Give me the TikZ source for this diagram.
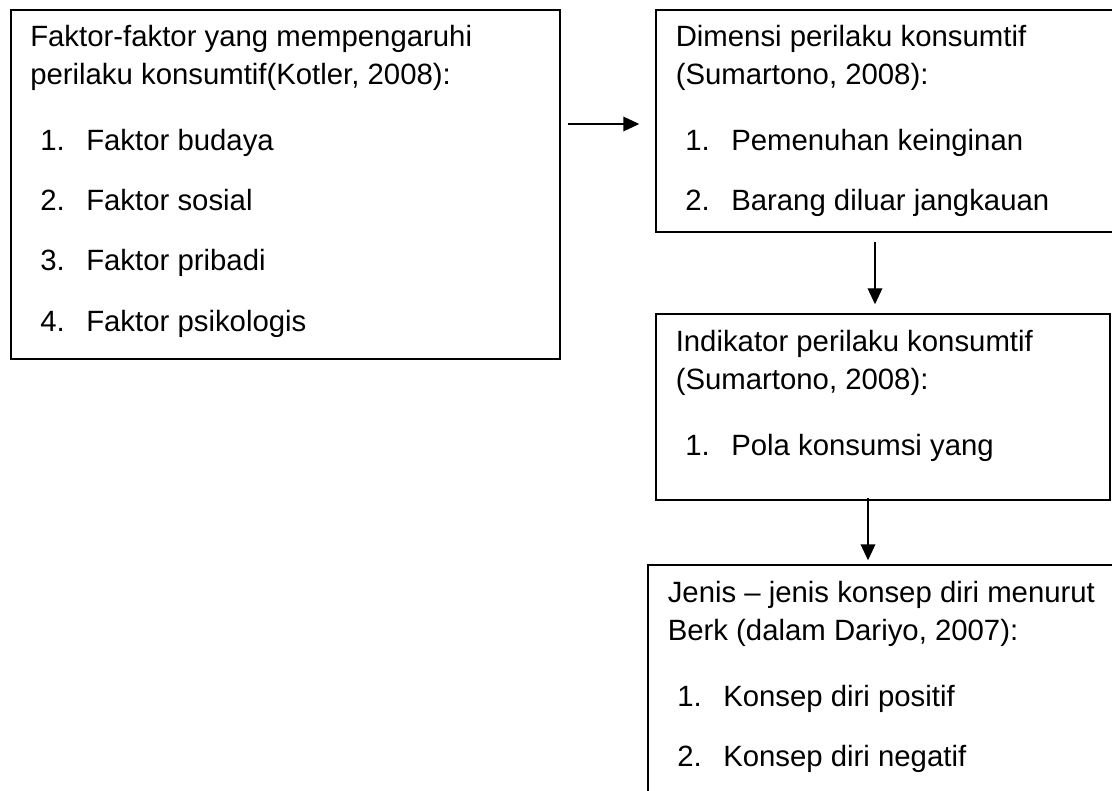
\documentclass[tikz,border=0pt]{standalone}
\usepackage{fontspec}
\setmainfont{Liberation Sans}
\usepackage{tikz}
\usetikzlibrary{arrows.meta, positioning, fit}

\newcommand{\butir}[2]{\makebox[34.5pt][l]{#1}#2}

\begin{document}
\begin{tikzpicture}[x=0.75pt, y=-0.75pt,
    kotak/.style={draw, line width=1.1pt, inner sep=0pt},
    teks/.style={anchor=base west, inner sep=0pt, font=\fontsize{22pt}{26pt}\selectfont},
    panah/.style={-{Triangle[length=12pt, width=11pt]}, line width=1.1pt}]

\useasboundingbox (0,0) rectangle (1112,791);
\clip (0,0) rectangle (1112,791);

% kotak
\node[kotak, fit={(11,10) (560,359)}] (faktor) {};
\node[kotak, fit={(656,10) (1114,232)}] (dimensi) {};
\node[kotak, fit={(656,314) (1110,500)}] (indikator) {};
\node[kotak, fit={(648,565) (1114,800)}] (jenis) {};

% isi kotak faktor
\node[teks] (faktorA) at (30,47) {Faktor-faktor yang mempengaruhi};
\node[teks] (faktorB) at (30,85) {perilaku konsumtif(Kotler, 2008):};
\node[teks] (faktor1) at (40,151) {\butir{1.}{Faktor budaya}};
\node[teks] (faktor2) at (40,211) {\butir{2.}{Faktor sosial}};
\node[teks] (faktor3) at (40,271) {\butir{3.}{Faktor pribadi}};
\node[teks] (faktor4) at (40,331) {\butir{4.}{Faktor psikologis}};

% isi kotak dimensi
\node[teks] (dimensiA) at (675.5,47) {Dimensi perilaku konsumtif};
\node[teks] (dimensiB) at (675.5,85) {(Sumartono, 2008):};
\node[teks] (dimensi1) at (685,151) {\butir{1.}{Pemenuhan keinginan}};
\node[teks] (dimensi2) at (685,211) {\butir{2.}{Barang diluar jangkauan}};

% isi kotak indikator
\node[teks] (indikatorA) at (675.5,351) {Indikator perilaku konsumtif};
\node[teks] (indikatorB) at (675.5,389) {(Sumartono, 2008):};
\node[teks] (indikator1) at (685,455) {\butir{1.}{Pola konsumsi yang}};

% isi kotak jenis
\node[teks] (jenisA) at (667.5,602) {Jenis – jenis konsep diri menurut};
\node[teks] (jenisB) at (667.5,640) {Berk (dalam Dariyo, 2007):};
\node[teks] (jenis1) at (677,706) {\butir{1.}{Konsep diri positif}};
\node[teks] (jenis2) at (677,766) {\butir{2.}{Konsep diri negatif}};

% panah
\draw[panah, shorten <=5.25pt, shorten >=12pt] ([yshift=-2.25pt]dimensi.west -| faktor.east) -- ([yshift=-2.25pt]dimensi.west);
\draw[panah, shorten <=6.75pt, shorten >=6.75pt] ([xshift=-7.5pt]dimensi.south) -- ([xshift=-7.5pt]dimensi.south |- indikator.north);
\draw[panah, shorten <=-2.25pt, shorten >=3pt] ([xshift=-11.25pt]indikator.south) -- ([xshift=-11.25pt]indikator.south |- jenis.north);

\end{tikzpicture}
\end{document}
